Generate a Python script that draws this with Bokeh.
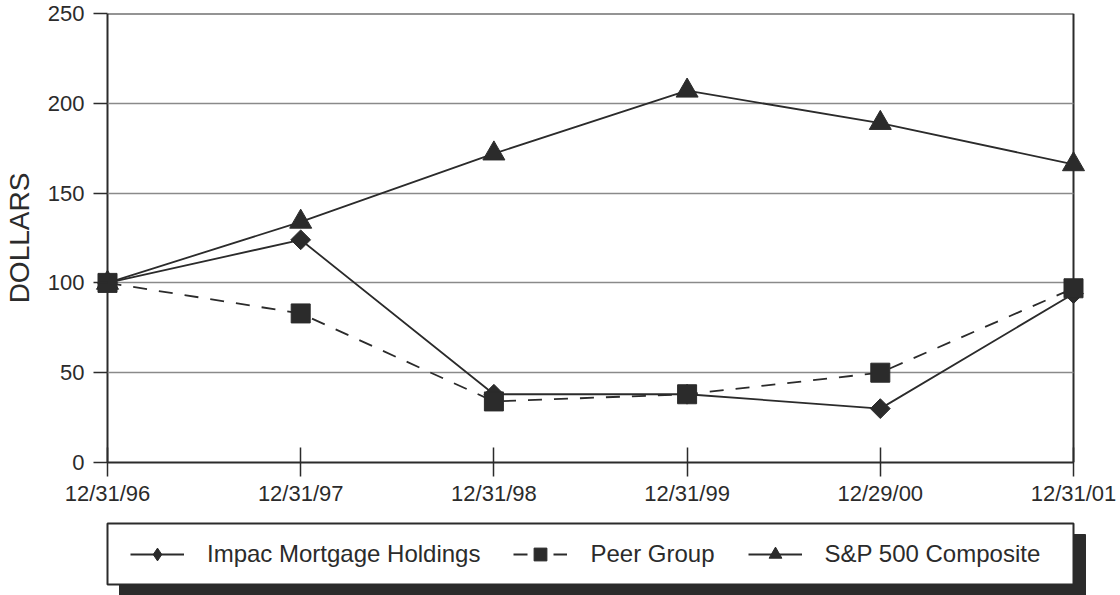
import math
from bokeh.plotting import figure
from bokeh.models import (Range1d, FixedTicker, Legend, LegendItem, LinearAxis, BoxAnnotation)
from bokeh.layouts import column
from bokeh.embed import file_html
from bokeh.resources import INLINE

dates = ["12/31/96", "12/31/97", "12/31/98", "12/31/99", "12/29/00", "12/31/01"]
impac = [100, 124, 38, 38, 30, 94]
peer = [100, 83, 34, 38, 50, 97]
sp500 = [100, 134, 172, 207, 189, 166]
y_ticks = [0, 50, 100, 150, 200, 250]
grid_vals = [50, 100, 150, 200]
labels = ["Impac Mortgage Holdings", "Peer Group", "S&P 500 Composite"]

xs = list(range(len(dates)))
XMAX = len(dates) - 1
INK = "#2b2b2b"
GRID = "#8a8a8a"
FONT = "Liberation Sans"

W = 1120
FRAME_L, FRAME_R = 93, 1087          # frame edges (px)
DATA_L, DATA_R = 107, 1073           # where x=0 and x=XMAX sit (px)
TOP, BOTTOM = 13, 462                # y=250 and y=0 (px)
H1 = 510
pxu = (DATA_R - DATA_L) / XMAX
padl = (DATA_L - FRAME_L) / pxu
padr = (FRAME_R - DATA_R) / pxu

p = figure(width=W, height=H1, output_backend="svg", toolbar_location=None,
           x_range=Range1d(-padl, XMAX + padr), y_range=Range1d(0, 250),
           min_border_left=FRAME_L, min_border_right=W - FRAME_R,
           min_border_top=TOP, min_border_bottom=H1 - BOTTOM)
p.outline_line_color = None
p.background_fill_color = "white"
p.border_fill_color = "white"
p.grid.visible = False

# bottom axis
xa = p.xaxis[0]
xa.ticker = FixedTicker(ticks=xs)
xa.major_label_overrides = {i: d for i, d in enumerate(dates)}
xa.bounds = (0, XMAX)
xa.axis_line_color = INK
xa.axis_line_width = 2
xa.major_tick_line_color = INK
xa.major_tick_line_width = 1.5
xa.minor_tick_line_color = None
xa.major_tick_in = 15
xa.major_tick_out = 14
xa.major_label_standoff = 4
xa.major_label_text_font = FONT
xa.major_label_text_font_size = "22px"
xa.major_label_text_color = INK

# left axis: labels, title and short ticks
ya = p.yaxis[0]
ya.ticker = FixedTicker(ticks=y_ticks)
ya.axis_line_color = None
ya.major_tick_line_color = INK
ya.major_tick_line_width = 1.5
ya.minor_tick_line_color = None
ya.major_tick_in = DATA_L - FRAME_L
ya.major_tick_out = 0
ya.major_label_standoff = 9
ya.major_label_text_font = FONT
ya.major_label_text_font_size = "22px"
ya.major_label_text_color = INK
ya.axis_label = "DOLLARS"
ya.axis_label_text_font = FONT
ya.axis_label_text_font_size = "28px"
ya.axis_label_text_font_style = "normal"
ya.axis_label_text_color = INK
ya.axis_label_standoff = 10

# top border + vertical borders at x=0 and x=XMAX (ticks pointing down)
top_ax = LinearAxis(ticker=FixedTicker(ticks=[0, XMAX]), bounds=(0, XMAX),
                    axis_line_color=INK, axis_line_width=2,
                    major_tick_line_color=INK, major_tick_line_width=2,
                    major_tick_in=BOTTOM - TOP, major_tick_out=0,
                    minor_tick_line_color=None,
                    major_label_overrides={0: "", XMAX: ""},
                    major_label_text_font_size="0px", major_label_standoff=0,
                    level="underlay")
p.add_layout(top_ax, "above")

# horizontal grid lines drawn as long inward ticks from x=XMAX to x=0
grid_ax = LinearAxis(ticker=FixedTicker(ticks=grid_vals), fixed_location=XMAX,
                     axis_line_color=None,
                     major_tick_line_color=GRID, major_tick_line_width=1.5,
                     major_tick_in=DATA_R - DATA_L, major_tick_out=0,
                     minor_tick_line_color=None,
                     major_label_overrides={v: "" for v in grid_vals},
                     major_label_text_font_size="0px", major_label_standoff=0,
                     level="underlay")
p.add_layout(grid_ax, "right")

# series
sp_line = dict(line_color=INK, line_width=1.8)
im_line = dict(line_color=INK, line_width=1.8)
pe_line = dict(line_color=INK, line_width=1.8, line_dash="14 12")
sp_mark = dict(marker="triangle", size=22, fill_color=INK, line_color=INK)
im_mark = dict(marker="square", angle=math.pi / 4, size=14, fill_color=INK, line_color=INK)
pe_mark = dict(marker="square", size=19, fill_color=INK, line_color=INK)

p.line(xs, sp500, **sp_line)
p.scatter(xs, sp500, **sp_mark)
p.line(xs, impac, **im_line)
p.scatter(xs, impac, **im_mark)
p.line(xs, peer, **pe_line)
p.scatter(xs, peer, **pe_mark)

# legend panel: its frame is aligned with the chart frame, so use pixel ranges over it
H2 = 595 - H1
p2 = figure(width=W, height=H2, output_backend="svg", toolbar_location=None,
            x_range=Range1d(FRAME_L, FRAME_R), y_range=Range1d(0, H2),
            x_axis_location=None, y_axis_location=None,
            min_border=0, min_border_left=FRAME_L, min_border_right=W - FRAME_R,
            min_border_top=0, min_border_bottom=0)
p2.grid.visible = False
p2.outline_line_color = None
p2.background_fill_color = "white"
p2.border_fill_color = "white"

BOX_L, BOX_R, BOX_T, BOX_B = 107, 1073, 523, 584
SH = (12, 11)
p2.add_layout(BoxAnnotation(left=BOX_L + SH[0], right=BOX_R + SH[0],
                            top=H2 - (BOX_T + SH[1] - H1), bottom=H2 - (BOX_B + SH[1] - H1),
                            fill_color=INK, fill_alpha=1, line_color=INK, line_alpha=1))
p2.add_layout(BoxAnnotation(left=BOX_L, right=BOX_R,
                            top=H2 - (BOX_T - H1), bottom=H2 - (BOX_B - H1),
                            fill_color="white", fill_alpha=1, line_color=INK, line_width=2,
                            line_alpha=1))

nan = float("nan")
legend_sample = []
for ln, mk in ((im_line, dict(marker="diamond", size=14, fill_color=INK, line_color=INK)),
               (dict(pe_line, line_dash="14 26"), dict(pe_mark, size=12)),
               (sp_line, dict(sp_mark, size=15))):
    r1 = p2.line(x=[nan, nan], y=[nan, nan], **ln)
    r2 = p2.scatter(x=[nan], y=[nan], **mk)
    legend_sample.append([r1, r2])

PADDING = 10
items = [LegendItem(label=lab, renderers=r) for lab, r in zip(labels, legend_sample)]
lg = Legend(items=items, orientation="horizontal",
            location=(140 - PADDING - FRAME_L, 25),
            padding=PADDING, spacing=33, glyph_width=54, glyph_height=32,
            label_standoff=23, margin=0,
            label_text_font=FONT, label_text_font_size="24px", label_text_color=INK,
            background_fill_alpha=0, border_line_color=None)
p2.add_layout(lg, "center")

layout = column(p, p2, spacing=0)
open("out.html", "w").write(file_html(layout, INLINE))
